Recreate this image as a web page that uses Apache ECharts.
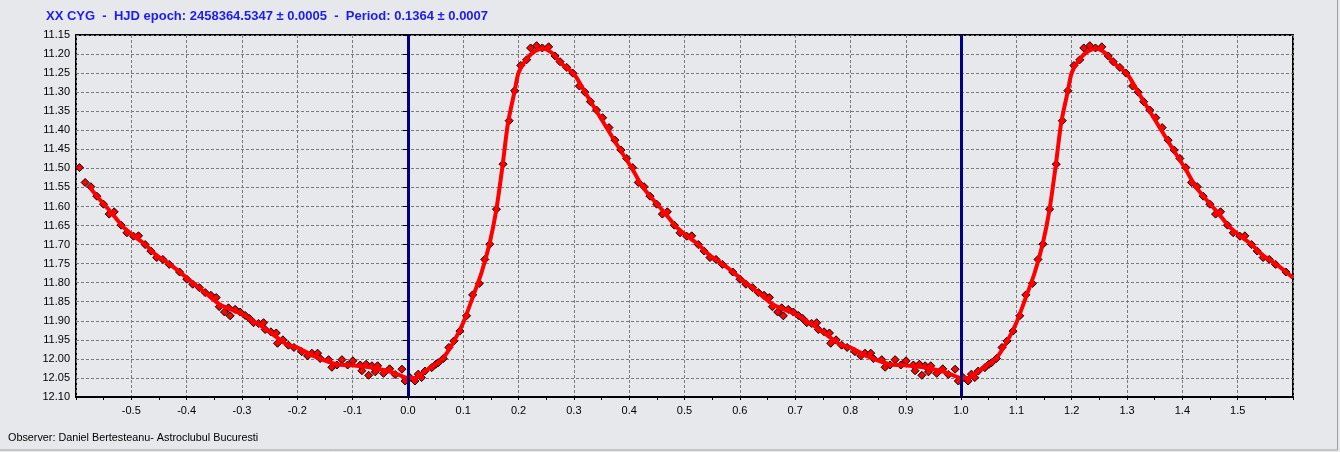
<!DOCTYPE html>
<html>
<head>
<meta charset="utf-8">
<script src="https://cdn.jsdelivr.net/npm/echarts@6/dist/echarts.min.js"></script>
<style>
  html, body { margin: 0; padding: 0; background: #e7e8eb; }
  #chart { width: 1340px; height: 452px; }
</style>
</head>
<body>
<div id="chart"></div>
<script>
// observed phases / magnitudes (one cycle, phase 0..1)
const pointPhase = [
  0.0036, 0.0127, 0.0187, 0.0247, 0.031, 0.043, 0.0506, 0.055, 0.064, 0.074,
  0.083, 0.094, 0.106, 0.117, 0.129, 0.139, 0.148, 0.160, 0.172, 0.183,
  0.193, 0.204, 0.2146, 0.2218, 0.2327, 0.243, 0.2544, 0.266, 0.275, 0.287,
  0.298, 0.310, 0.320, 0.330, 0.341, 0.352, 0.3635, 0.3743, 0.3852, 0.3955,
  0.4063, 0.4165, 0.4268, 0.4376, 0.4497, 0.460, 0.469, 0.4816, 0.492, 0.504,
  0.513, 0.525, 0.5353, 0.546, 0.557, 0.5685, 0.5872, 0.6004, 0.611, 0.623,
  0.6335, 0.6438, 0.6534, 0.6589, 0.6685, 0.6757, 0.6787, 0.6877, 0.6968, 0.7058,
  0.7137, 0.721, 0.730, 0.739, 0.742, 0.7523, 0.762, 0.7643, 0.774, 0.784,
  0.794, 0.808, 0.8186, 0.8264, 0.8367, 0.8414, 0.8566, 0.8626, 0.8716, 0.8807,
  0.891, 0.9005, 0.9138, 0.9168, 0.9246, 0.929, 0.935, 0.941, 0.9452, 0.956,
  0.9669, 0.977, 0.9892, 0.995
];
const pointMag = [
  12.049, 12.058, 12.040, 12.049, 12.032, 12.023, 12.014, 12.010, 11.999, 11.970,
  11.953, 11.927, 11.887, 11.832, 11.802, 11.739, 11.699, 11.607, 11.489, 11.375,
  11.296, 11.230, 11.215, 11.184, 11.178, 11.184, 11.181, 11.205, 11.220, 11.235,
  11.250, 11.284, 11.300, 11.325, 11.347, 11.367, 11.393, 11.426, 11.452, 11.474,
  11.498, 11.537, 11.548, 11.573, 11.594, 11.620, 11.614, 11.649, 11.669, 11.678,
  11.677, 11.700, 11.717, 11.734, 11.739, 11.752, 11.772, 11.791, 11.804, 11.813,
  11.826, 11.833, 11.839, 11.863, 11.877, 11.866, 11.887, 11.870, 11.877, 11.886,
  11.894, 11.905, 11.907, 11.905, 11.923, 11.929, 11.932, 11.959, 11.950, 11.964,
  11.970, 11.981, 11.992, 11.985, 11.985, 11.999, 12.002, 12.022, 12.016, 12.002,
  12.016, 12.005, 12.016, 12.031, 12.014, 12.043, 12.018, 12.034, 12.018, 12.038,
  12.026, 12.041, 12.027, 12.058
];

// fitted light curve (one cycle)
const curvePhase = [
  0.000, 0.012, 0.022, 0.040, 0.064, 0.082, 0.100, 0.118, 0.133, 0.148,
  0.160, 0.171, 0.181, 0.193, 0.200, 0.214, 0.230, 0.245, 0.263, 0.275,
  0.300, 0.320, 0.341, 0.362, 0.383, 0.405, 0.425, 0.445, 0.465, 0.483,
  0.505, 0.525, 0.546, 0.570, 0.600, 0.6365, 0.661, 0.700, 0.739, 0.781,
  0.800, 0.829, 0.871, 0.900, 0.937, 0.974, 1.000
];
const curveMag = [
  12.050, 12.050, 12.043, 12.023, 11.997, 11.957, 11.905, 11.835, 11.774, 11.695,
  11.607, 11.494, 11.380, 11.297, 11.249, 11.214, 11.192, 11.186, 11.200, 11.222,
  11.252, 11.300, 11.350, 11.400, 11.450, 11.500, 11.550, 11.585, 11.618, 11.650,
  11.678, 11.700, 11.729, 11.752, 11.787, 11.830, 11.858, 11.883, 11.918, 11.962,
  11.970, 11.992, 12.014, 12.017, 12.023, 12.036, 12.050
];

const cycles = [-1, 0, 1];
const lineStart = -0.575;   // fitted line is not drawn before this phase
const xMin = -0.6, xMax = 1.6;

// phase folded data, repeated for each cycle shown
const pointData = [];
cycles.forEach(c => {
  pointPhase.forEach((p, i) => {
    const x = p + c;
    if (x >= xMin && x <= xMax) pointData.push([x, pointMag[i]]);
  });
});
const curveData = [];
cycles.forEach(c => {
  curvePhase.forEach((p, i) => {
    const x = p + c;
    if (c > -1 && i === 0) return; // skip duplicate seam point
    if (x >= lineStart && x <= xMax + 1e-9) curveData.push([x, curveMag[i]]);
  });
});

const titleText = 'XX CYG  -  HJD epoch: 2458364.5347 \u00b1 0.0005  -  Period: 0.1364 \u00b1 0.0007';
const observerText = 'Observer: Daniel Bertesteanu- Astroclubul Bucuresti';

const chart = echarts.init(document.getElementById('chart'));
const font = '"Liberation Sans", Arial, sans-serif';

chart.setOption({
  backgroundColor: '#e7e8eb',
  animation: false,
  textStyle: { fontFamily: font },
  title: {
    text: titleText,
    left: 46,
    top: 10,
    padding: 0,
    textStyle: { color: '#1c1cf0', fontSize: 13, fontWeight: 'bold', fontFamily: font }
  },
  graphic: [
    {
      type: 'text',
      left: 8,
      top: 433,
      style: { text: observerText, fill: '#000', font: '10.8px ' + font }
    },
    {
      type: 'rect',
      shape: { x: -1, y: -1, width: 1338.5, height: 451 },
      style: { fill: 'none', stroke: '#a0a0a0', lineWidth: 1 },
      silent: true
    }
  ],
  grid: {
    left: 76,
    right: 47,
    top: 35,
    bottom: 55,
    show: true,
    borderColor: '#000',
    borderWidth: 2,
    backgroundColor: '#e7e8eb'
  },
  xAxis: {
    type: 'value',
    min: xMin,
    max: xMax,
    interval: 0.1,
    axisLine: { onZero: false, lineStyle: { color: '#000', width: 2 } },
    axisTick: { show: true, length: 3, lineStyle: { color: '#000' } },
    minorTick: { show: true, splitNumber: 2, length: 3, lineStyle: { color: '#000' } },
    axisLabel: {
      color: '#000',
      fontSize: 11,
      margin: 8,
      showMinLabel: false,
      showMaxLabel: false,
      formatter: v => v.toFixed(1)
    },
    splitLine: { show: true, lineStyle: { color: '#7a7a7a', type: [3, 2], width: 1 } }
  },
  yAxis: {
    type: 'value',
    inverse: true,
    min: 11.15,
    max: 12.10,
    interval: 0.05,
    axisLine: { show: true, lineStyle: { color: '#000', width: 2 } },
    axisTick: { show: true, length: 5, lineStyle: { color: '#000' } },
    axisLabel: { color: '#000', fontSize: 11, margin: 6, formatter: v => v.toFixed(2) },
    splitLine: { show: true, lineStyle: { color: '#7a7a7a', type: [3, 2], width: 1 } }
  },
  series: [
    {
      name: 'obs',
      type: 'scatter',
      data: pointData,
      symbol: 'diamond',
      symbolSize: 8,
      itemStyle: { color: '#ff0000', borderColor: '#000', borderWidth: 1, opacity: 1 },
      z: 3
    },
    {
      name: 'fit',
      type: 'line',
      data: curveData,
      showSymbol: false,
      smooth: 0.25,
      lineStyle: { color: '#ff0000', width: 4 },
      z: 4
    },
    {
      name: 'epochs',
      type: 'line',
      data: [],
      z: 5,
      markLine: {
        silent: true,
        symbol: ['none', 'none'],
        label: { show: false },
        lineStyle: { color: '#000080', width: 3, type: 'solid' },
        data: [{ xAxis: 0 }, { xAxis: 1 }]
      }
    }
  ]
});
</script>
</body>
</html>
